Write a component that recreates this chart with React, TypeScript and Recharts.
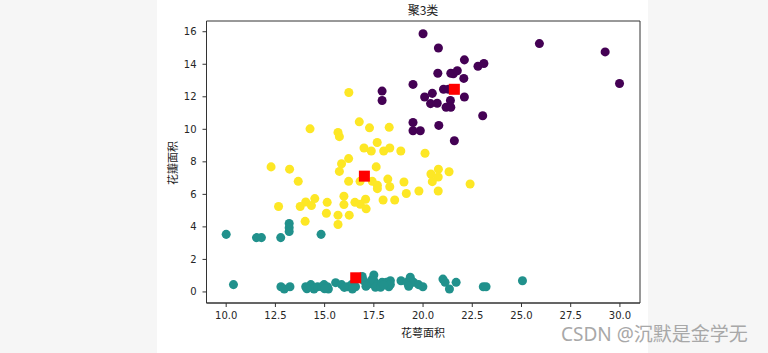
import { ReferenceArea, Scatter, ScatterChart, XAxis, YAxis, ZAxis } from "recharts";

type Pt = [number, number];

// 花萼面积, 花瓣面积 per cluster
const purplePts: Pt[] = [
  [20.0, 15.88], [20.78, 15.0], [25.91, 15.27], [29.25, 14.76], [29.98, 12.82],
  [22.1, 14.27], [22.79, 13.88], [23.09, 14.05], [20.75, 13.45], [21.41, 13.45],
  [21.54, 13.42], [21.74, 13.6], [22.07, 13.13], [19.49, 12.76], [21.04, 12.46],
  [21.29, 12.46], [20.47, 12.21], [20.08, 11.99], [22.1, 11.99], [20.38, 11.58],
  [20.72, 11.6], [21.39, 11.77], [21.17, 11.36], [21.41, 11.36], [23.03, 10.83],
  [19.49, 10.42], [19.49, 9.91], [19.86, 9.91], [20.8, 10.24], [21.59, 9.3],
  [17.92, 12.35], [17.92, 11.77],
];

const yellowPts: Pt[] = [
  [16.23, 12.26], [14.26, 10.03], [15.68, 9.81], [15.75, 9.55], [16.76, 10.46],
  [17.28, 10.09], [18.28, 10.12], [17.67, 9.19], [17.0, 8.85], [17.37, 8.67],
  [18.0, 8.67], [18.31, 8.85], [18.87, 8.67], [20.1, 8.53], [12.28, 7.69],
  [13.22, 7.55], [16.22, 8.2], [15.86, 7.88], [15.75, 7.41], [17.62, 7.69],
  [20.78, 7.55], [20.4, 7.25], [20.77, 7.07], [20.47, 6.78], [21.32, 7.39],
  [22.39, 6.64], [13.66, 6.8], [16.22, 6.8], [16.8, 6.8], [17.42, 6.8],
  [17.68, 6.56], [17.68, 6.35], [18.21, 6.94], [18.31, 6.47], [19.03, 6.76],
  [19.15, 6.05], [19.79, 6.21], [20.77, 6.21], [17.97, 5.65], [18.56, 5.65],
  [12.66, 5.25], [13.76, 5.25], [14.04, 5.53], [14.33, 5.31], [14.5, 5.74],
  [15.13, 5.51], [15.98, 5.89], [15.98, 5.37], [16.54, 5.51], [16.81, 5.39],
  [17.08, 5.7], [17.11, 5.11], [15.09, 4.84], [15.68, 4.72], [16.25, 4.72],
  [14.01, 4.34], [15.68, 4.15],
];

const tealPts: Pt[] = [
  [10.0, 3.54], [11.54, 3.34], [11.79, 3.34], [12.77, 3.34], [13.2, 4.21],
  [13.2, 3.95], [13.2, 3.71], [14.82, 3.54],
  [10.37, 0.45], [12.78, 0.32], [12.95, 0.18], [13.24, 0.32], [14.04, 0.32],
  [14.3, 0.45], [14.46, 0.18], [14.64, 0.32], [14.85, 0.32], [14.97, 0.45],
  [15.14, 0.32], [15.19, 0.18], [15.56, 0.57], [15.86, 0.45], [16.15, 0.32],
  [16.37, 0.45], [16.57, 0.32], [16.41, 0.18], [16.91, 0.95], [16.99, 0.69],
  [17.24, 0.49], [17.42, 0.79], [17.5, 1.04], [17.5, 0.69], [17.67, 0.45],
  [17.58, 0.29], [17.84, 0.29], [17.92, 0.59], [18.14, 0.59], [18.26, 0.32],
  [18.34, 0.69], [18.34, 0.45], [18.88, 0.69], [19.19, 0.59], [19.35, 0.9],
  [19.52, 0.59], [19.27, 0.35], [19.77, 0.45], [19.99, 0.32], [21.01, 0.79],
  [21.12, 0.59], [21.34, 0.18], [21.68, 0.59], [23.06, 0.32], [23.2, 0.32],
  [25.05, 0.69], [14.1, 0.2], [15.0, 0.2], [16.0, 0.28], [17.1, 0.35], [18.0, 0.42],
];

const centroids: Pt[] = [
  [21.59, 12.46],
  [17.02, 7.12],
  [16.58, 0.87],
];

const xTicks = [10, 12.5, 15, 17.5, 20, 22.5, 25, 27.5, 30];
const yTicks = [0, 2, 4, 6, 8, 10, 12, 14, 16];
const xDomain: [number, number] = [9.0, 31.02];
const yDomain: [number, number] = [-0.68, 16.66];

const toRows = (pts: Pt[]) => pts.map(([x, y]) => ({ x, y }));

const tickStyle = { fill: "#262626", fontSize: 10, fontFamily: "DejaVu Sans" };
const cjk = "'Noto Sans CJK SC', 'Noto Sans', sans-serif";

function CentroidMark(props: { cx?: number; cy?: number }) {
  const { cx = 0, cy = 0 } = props;
  return <rect x={cx - 5.5} y={cy - 5.5} width={11} height={11} fill="#ff0000" />;
}

export default function App() {
  return (
    <div
      style={{
        position: "absolute",
        left: 0,
        top: 0,
        width: 768,
        height: 353,
        background: "#f6f6f6",
        overflow: "hidden",
      }}
    >
      <div style={{ position: "absolute", left: 157, top: 0, width: 491, height: 353, background: "#fff" }} />
      <div style={{ position: "absolute", left: 0, top: 0 }}>
        <ScatterChart width={768} height={353} margin={{ top: 21, right: 128, bottom: 0, left: 166.5 }}>
          <XAxis
            type="number"
            dataKey="x"
            domain={xDomain}
            ticks={xTicks}
            allowDataOverflow
            tickFormatter={(v: number) => v.toFixed(1)}
            height={50}
            tickSize={4}
            tickMargin={5}
            stroke="#333"
            tick={tickStyle}
          />
          <YAxis
            type="number"
            dataKey="y"
            domain={yDomain}
            ticks={yTicks}
            allowDataOverflow
            width={40}
            tickSize={4}
            tickMargin={6}
            stroke="#333"
            tick={tickStyle}
          />
          <ZAxis range={[40, 40]} />
          <ReferenceArea
            x1={xDomain[0]}
            x2={xDomain[1]}
            y1={yDomain[0]}
            y2={yDomain[1]}
            fill="none"
            fillOpacity={0}
            stroke="#333"
            strokeWidth={1}
          />
          <Scatter data={toRows(tealPts)} fill="#21918c" isAnimationActive={false} />
          <Scatter data={toRows(yellowPts)} fill="#fde725" isAnimationActive={false} />
          <Scatter data={toRows(purplePts)} fill="#440154" isAnimationActive={false} />
          <Scatter data={toRows(centroids)} shape={<CentroidMark />} isAnimationActive={false} />
        </ScatterChart>
      </div>
      <div
        style={{
          position: "absolute",
          left: 323,
          width: 200,
          top: 1,
          textAlign: "center",
          fontFamily: cjk,
          fontSize: 12,
          color: "#222",
        }}
      >
        聚3类
      </div>
      <div
        style={{
          position: "absolute",
          left: 323,
          width: 200,
          top: 324,
          textAlign: "center",
          fontFamily: cjk,
          fontSize: 11,
          color: "#222",
        }}
      >
        花萼面积
      </div>
      <div
        style={{
          position: "absolute",
          left: 122,
          top: 155,
          width: 100,
          textAlign: "center",
          transform: "rotate(-90deg)",
          fontFamily: cjk,
          fontSize: 11,
          color: "#222",
          lineHeight: "16px",
        }}
      >
        花瓣面积
      </div>
      <div
        style={{
          position: "absolute",
          left: 561,
          top: 319,
          fontFamily: "'Noto Sans', 'Noto Sans CJK SC', sans-serif",
          fontSize: 19,
          color: "#a8a8a8",
          whiteSpace: "nowrap",
        }}
      >
        CSDN @沉默是金学无
      </div>
    </div>
  );
}
